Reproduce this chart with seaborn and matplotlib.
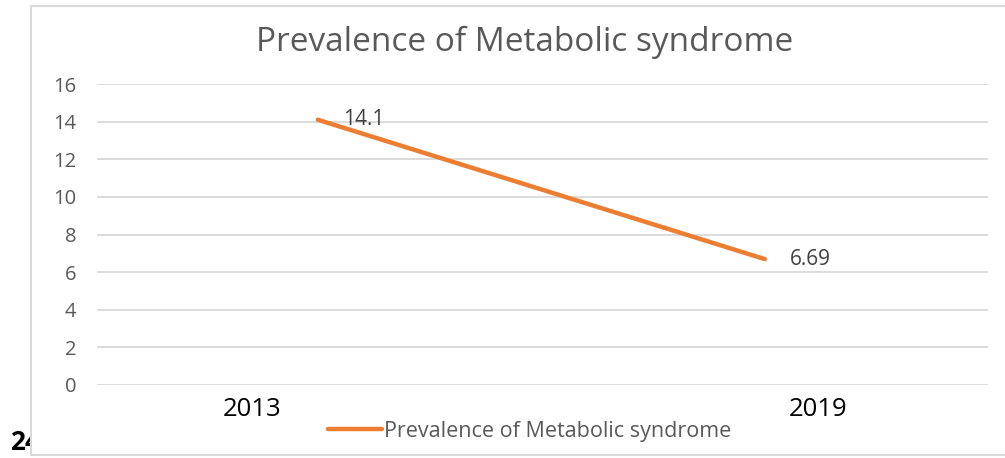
import matplotlib.pyplot as plt
import matplotlib.patches as mpatches
import seaborn as sns
import pandas as pd

# data
years = ['2013', '2019']
prevalence = [14.1, 6.69]
series_name = 'Prevalence of Metabolic syndrome'

df = pd.DataFrame({'pos': [0, 1], 'year': years, 'value': prevalence})

sns.set_theme(style='white')
plt.rcParams['font.family'] = ['Open Sans', 'DejaVu Sans']

fig = plt.figure(figsize=(10.05, 4.58), dpi=100)

# stray page number sitting under the chart frame
fig.text(0.010, 0.018, '24', fontsize=19, color='black', fontweight='bold', zorder=0.2)
frame = mpatches.Rectangle((31 / 1005, 3 / 458), 1.0, 449 / 458, transform=fig.transFigure,
                           facecolor='white', edgecolor='#d9d9d9', linewidth=1.5, zorder=0.5)
fig.patches.append(frame)

ax = fig.add_axes([97 / 1005, 1 - 385 / 458, (988 - 97) / 1005, (385 - 84) / 458])
ax.set_zorder(1)
ax.set_facecolor('none')

sns.lineplot(data=df, x='pos', y='value', ax=ax, color='#ED7D31', linewidth=3.2,
             label=series_name, solid_capstyle='round')

for x, v in zip(df['pos'], df['value']):
    ax.annotate(f'{v:g}', (x, v), xytext=(18, 0), textcoords='offset points',
                ha='left', va='center', fontsize=15, color='#404040')

ax.set_xlim(-0.494, 1.499)
ax.set_ylim(0, 16)
ax.set_yticks(range(0, 17, 2))
ax.set_xticks([-0.148, 1.119])
ax.set_xticklabels(years, fontsize=18.5, color='black')
ax.tick_params(axis='y', labelsize=14.5, labelcolor='#595959', pad=15, length=0)
ax.tick_params(axis='x', pad=9, length=0)
ax.grid(axis='y', color='#d9d9d9', linewidth=1.3)
ax.set_axisbelow(True)
for s in ax.spines.values():
    s.set_visible(False)
ax.set_xlabel('')
ax.set_ylabel('')

fig.text(525 / 1005, 1 - 42 / 458, series_name, ha='center', va='center', fontsize=24, color='#595959')

ax.legend(loc='center', bbox_to_anchor=(530 / 1005, 1 - 431 / 458), bbox_transform=fig.transFigure,
          frameon=False, fontsize=15.5, handlelength=2.5, handletextpad=0.1, labelcolor='#595959')

fig.savefig('out.png', dpi=100)
